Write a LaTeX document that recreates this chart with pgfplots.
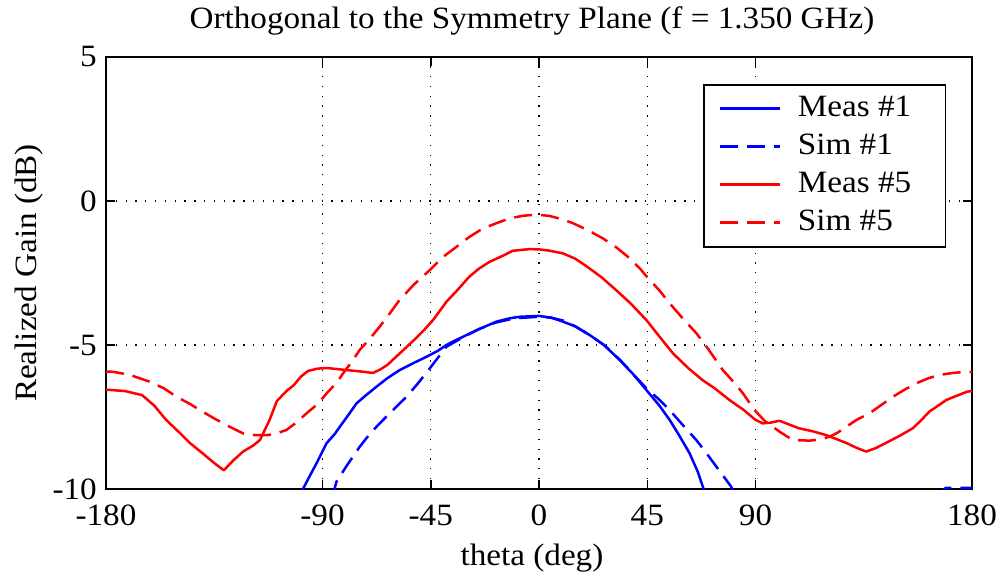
\documentclass[border=0pt]{standalone}
\usepackage{fontspec}
\setmainfont{Liberation Serif}[FakeStretch=1.07]
\usepackage{pgfplots}
\pgfplotsset{compat=1.18}
\definecolor{mblue}{RGB}{0,0,255}
\definecolor{mred}{RGB}{255,0,0}
\begin{document}
\begin{tikzpicture}[x=1pt,y=1pt]
\begin{axis}[
  at={(0pt,0pt)}, anchor=south west,
  scale only axis, width=866pt, height=432pt,
  xmin=-180, xmax=180, ymin=-10, ymax=5,
  xtick={-180,-90,-45,0,45,90,180},
  xticklabels={-180,-90,-45,0,45,90,180},
  ytick={-10,-5,0,5},
  yticklabels={-10,-5,0,5},
  tick align=inside,
  xtick pos=both, ytick pos=both,
  major tick length=9pt,
  tick style={black, line width=1.5pt},
  axis line style={black, line width=2pt},
  grid=major,
  major grid style={black, line width=1.3pt, dash pattern=on 1.3pt off 8.5pt},
  ticklabel style={font=\fontsize{31}{36}\selectfont},
  xticklabel style={anchor=base, yshift=-36pt, inner sep=0pt},
  yticklabel style={anchor=east, inner sep=0pt, xshift=-9pt},
  title={Orthogonal to the Symmetry Plane (f = 1.350 GHz)},
  title style={font=\fontsize{31}{36}\selectfont, at={(axis description cs:0.5,1)}, anchor=base, yshift=22pt, xshift=-7pt},
  xlabel={theta (deg)},
  xlabel style={font=\fontsize{31}{36}\selectfont, at={(axis description cs:0.5,0)}, anchor=base, yshift=-76pt, xshift=-7pt},
  ylabel={Realized Gain (dB)},
  ylabel style={font=\fontsize{31}{36}\selectfont, at={(axis description cs:-0.0889,0.5)}, anchor=center},
  unbounded coords=jump,
  legend cell align=left,
  legend image code/.code={\draw[#1, line width=3pt] (0pt,0pt) -- (60pt,0pt);},
  legend style={at={(axis description cs:0.970,0.9375)}, anchor=north east,
    draw=black, line width=1.5pt, fill=white,
    font=\fontsize{31}{38}\selectfont,
    inner xsep=15pt, inner ysep=5pt,
    nodes={inner sep=3pt, text height=24pt, text depth=8pt},
    /tikz/every odd column/.style={column sep=13pt},
    /tikz/every even column/.style={column sep=0pt}},
  every axis plot/.append style={line width=2.5pt, line join=round},
]
% Meas #1
\addplot[mblue, solid] coordinates {
(-100,-10.4) (-98,-9.98) (-95,-9.5) (-92.5,-9.11) (-88.3,-8.41) (-85,-8.1) (-82.8,-7.84) (-79,-7.4) (-75.9,-7.03) (-72,-6.75) (-67.6,-6.45) (-63,-6.15) (-57.9,-5.87) (-52,-5.62) (-46.8,-5.41) (-42,-5.2) (-38.5,-5.0) (-35,-4.85) (-31.5,-4.71) (-25,-4.45) (-17.7,-4.19) (-12,-4.07) (-8,-4.02) (0,-3.99) (5,-4.05) (10,-4.19) (15,-4.35) (21,-4.65) (27,-5.0) (33.5,-5.52) (39,-6.0) (44.6,-6.56) (50,-7.1) (54.3,-7.6) (58,-8.1) (62.6,-8.76) (66,-9.4) (68.1,-9.92) (70,-10.4)
};
\addlegendentry{Meas \#1\rule{16pt}{0pt}}
% Sim #1
\addplot[mblue, dash pattern=on 18pt off 9pt] coordinates {
(-86,-10.3) (-84.2,-9.75) (-80,-9.2) (-74.5,-8.53) (-70,-8.05) (-64.8,-7.6) (-60,-7.2) (-55.1,-6.8) (-50,-6.3) (-45.4,-5.81) (-38.5,-5.06) (-32,-4.75) (-25,-4.45) (-18,-4.22) (-10,-4.07) (0,-4.02) (5,-4.05) (10,-4.15) (15,-4.35) (21,-4.65) (27,-5.0) (33.5,-5.5) (39,-6.0) (44.6,-6.5) (50,-6.9) (54.3,-7.26) (60,-7.8) (65.4,-8.3) (70,-8.8) (73.7,-9.22) (79.9,-9.92) (82,-10.3)
(120,nan)
(166,-10.3) (169,-9.96) (180,-9.96)
};
\addlegendentry{Sim \#1}
% Meas #5
\addplot[mred, solid] coordinates {
(-180,-6.55) (-172,-6.6) (-165,-6.74) (-160,-7.1) (-155,-7.6) (-150,-8.0) (-145,-8.41) (-140,-8.75) (-135,-9.1) (-131,-9.35) (-127,-9.0) (-123,-8.7) (-119,-8.5) (-116,-8.3) (-112,-7.6) (-109,-6.95) (-105,-6.6) (-102,-6.4) (-99,-6.1) (-96,-5.9) (-92,-5.82) (-88,-5.8) (-80,-5.87) (-74,-5.92) (-69,-5.97) (-66,-5.85) (-63,-5.69) (-58,-5.3) (-52,-4.83) (-48,-4.5) (-44,-4.13) (-38.5,-3.5) (-34,-3.1) (-29,-2.63) (-25,-2.35) (-20.5,-2.11) (-15,-1.9) (-11,-1.73) (-4,-1.67) (0,-1.68) (4,-1.72) (10,-1.82) (15,-2.0) (20,-2.28) (26,-2.65) (32,-3.09) (38,-3.55) (44.6,-4.13) (50,-4.7) (55.7,-5.29) (62,-5.8) (68,-6.22) (73,-6.5) (79,-6.9) (85,-7.25) (90,-7.6) (93,-7.72) (96,-7.7) (100,-7.63) (104,-7.76) (108,-7.89) (114,-8.0) (119.4,-8.13) (124,-8.28) (128,-8.41) (132,-8.57) (136,-8.7) (140,-8.58) (144,-8.41) (150,-8.15) (155.4,-7.89) (159,-7.6) (162.3,-7.31) (166,-7.1) (169.3,-6.91) (174,-6.75) (178,-6.62) (180,-6.6)
};
\addlegendentry{Meas \#5}
% Sim #5
\addplot[mred, dash pattern=on 18pt off 9pt] coordinates {
(-180,-5.92) (-177,-5.93) (-170,-6.04) (-162,-6.27) (-156,-6.5) (-150.6,-6.8) (-145,-7.05) (-141,-7.26) (-135,-7.55) (-130,-7.78) (-123,-8.07) (-118,-8.13) (-113,-8.13) (-109,-8.07) (-105,-7.95) (-101,-7.7) (-96.6,-7.37) (-92,-7.05) (-88.3,-6.68) (-84,-6.3) (-81.4,-5.98) (-78,-5.6) (-74.5,-5.17) (-70,-4.75) (-66.2,-4.36) (-62,-3.9) (-58,-3.44) (-52,-2.9) (-45.4,-2.4) (-40,-1.95) (-34.3,-1.59) (-29,-1.25) (-23.3,-0.95) (-17,-0.75) (-12.2,-0.6) (-7,-0.52) (-3.9,-0.49) (0,-0.48) (4.4,-0.52) (9,-0.62) (14.1,-0.77) (20,-1.0) (26.6,-1.3) (32,-1.6) (37.7,-1.99) (42,-2.35) (46,-2.74) (50,-3.1) (54.3,-3.55) (60,-4.1) (65.4,-4.59) (70,-5.1) (76.4,-5.87) (80,-6.2) (84.8,-6.68) (89.6,-7.26) (94,-7.65) (100,-8.01) (105.5,-8.3) (112.5,-8.32) (117,-8.28) (120.8,-8.18) (124,-8.05) (127.7,-7.84) (132,-7.6) (137.4,-7.37) (142,-7.1) (147.1,-6.8) (152,-6.55) (156.8,-6.33) (162,-6.15) (166.5,-6.04) (172,-5.97) (178,-5.93) (180,-5.93)
};
\addlegendentry{Sim \#5}
\end{axis}
\pgfresetboundingbox
\path (-106pt,-90pt) rectangle (897pt,489pt);
\end{tikzpicture}
\end{document}
